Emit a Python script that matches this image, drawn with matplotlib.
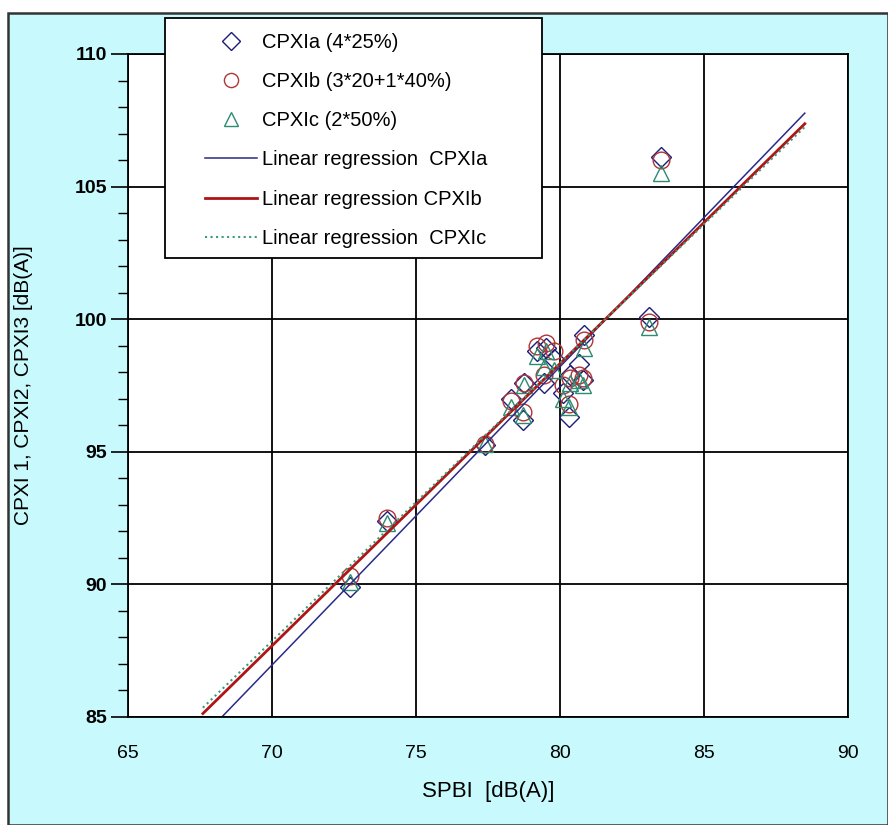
import numpy as np
import matplotlib.pyplot as plt
from matplotlib.patches import Rectangle
from matplotlib.ticker import MultipleLocator

plt.rcParams['font.family'] = ['Liberation Sans', 'DejaVu Sans']

# SPBI values (x) and the three CPX indices
spbi = [72.7, 74.0, 77.4, 78.3, 78.7, 78.75, 79.2, 79.5, 79.8, 79.45,
        80.1, 80.3, 80.35, 80.65, 80.8, 80.85, 83.1, 83.5]
cpx_a = [89.9, 92.4, 95.25, 97.0, 96.2, 97.6, 98.8, 98.9, 98.5, 97.6,
         97.2, 96.3, 97.9, 98.3, 97.7, 99.4, 100.1, 106.1]
cpx_b = [90.3, 92.5, 95.3, 96.9, 96.5, 97.6, 99.0, 99.1, 98.8, 97.9,
         97.5, 96.8, 97.8, 97.9, 97.8, 99.2, 99.9, 106.0]
cpx_c = [90.1, 92.3, 95.3, 96.7, 96.4, 97.5, 98.6, 98.8, 98.1, 98.2,
         97.0, 96.7, 97.6, 97.7, 97.5, 98.9, 99.7, 105.5]

# regression lines (end points as drawn)
reg_x = [67.6, 88.5]
reg_a = [84.26, 107.77]
reg_b = [85.13, 107.37]
reg_c = [85.35, 107.25]

yticks = [85, 90, 95, 100, 105, 110]

labels = ['CPXIa (4*25%)', 'CPXIb (3*20+1*40%)', 'CPXIc (2*50%)',
          'Linear regression  CPXIa', 'Linear regression CPXIb',
          'Linear regression  CPXIc']

fig = plt.figure(figsize=(8.88, 8.25), dpi=100)
fig.patch.set_facecolor('white')
W, H = 888, 825
bg = Rectangle((8 / W, 0), 1 - 8 / W, 1 - 13 / H,
               transform=fig.transFigure, facecolor='#c8f9fc',
               edgecolor='#333333', linewidth=1.8, zorder=-10)
fig.patches.append(bg)

ax = fig.add_axes([128 / W, 1 - 717 / H, 720 / W, 663 / H])
ax.set_facecolor('white')

ms = 12
h1, = ax.plot(spbi, cpx_a, linestyle='none', marker='D', ms=ms * 0.85,
              mfc='none', mec='#1c1c7a', mew=1.0)
h2, = ax.plot(spbi, cpx_b, linestyle='none', marker='o', ms=ms, mfc='none',
              mec='#b03535', mew=1.0)
h3, = ax.plot(spbi, cpx_c, linestyle='none', marker='^', ms=ms, mfc='none',
              mec='#2e8a70', mew=1.0)

h4, = ax.plot(reg_x, reg_a, color='#2a2a8a', lw=1.1)
h5, = ax.plot(reg_x, reg_b, color='#b01515', lw=2.0)
h6, = ax.plot(reg_x, reg_c, color='#3a9a7a', lw=1.5, ls=':')

ax.set_xlim(65, 90)
ax.set_ylim(85, 110)
ax.xaxis.set_major_locator(MultipleLocator(5))
ax.set_yticks(yticks)
ax.set_yticklabels([str(v) for v in yticks], fontweight='bold')
ax.yaxis.set_minor_locator(MultipleLocator(1))
ax.grid(True, which='major', color='black', lw=1.3)
ax.set_axisbelow(True)
for s in ax.spines.values():
    s.set_color('black')
    s.set_linewidth(1.3)
ax.tick_params(axis='y', which='major', direction='out', length=12, width=1.2,
               labelsize=14, pad=3)
ax.tick_params(axis='y', which='minor', direction='out', length=7, width=1.0)
ax.tick_params(axis='x', which='major', length=0, labelsize=14, pad=20)

ax.set_xlabel('SPBI  [dB(A)]', fontsize=16, labelpad=14)
ax.set_ylabel('CPXI 1, CPXI2, CPXI3 [dB(A)]', fontsize=15, labelpad=30)

# legend box drawn separately so its padding can follow the original
fig.patches.append(Rectangle((165 / W, 1 - 258 / H), 377 / W, 240 / H,
                             transform=fig.transFigure, facecolor='white',
                             edgecolor='black', linewidth=1.3, zorder=4))
leg = fig.legend([h1, h2, h3, h4, h5, h6], labels, loc='upper left',
                 bbox_to_anchor=(205 / W, 1 - 33 / H), fontsize=14.5,
                 frameon=False, borderpad=0, labelspacing=1.0,
                 handlelength=2.6, handletextpad=0.25, borderaxespad=0,
                 markerscale=0.85)
leg.set_zorder(5)

fig.savefig('out.png', dpi=100)
